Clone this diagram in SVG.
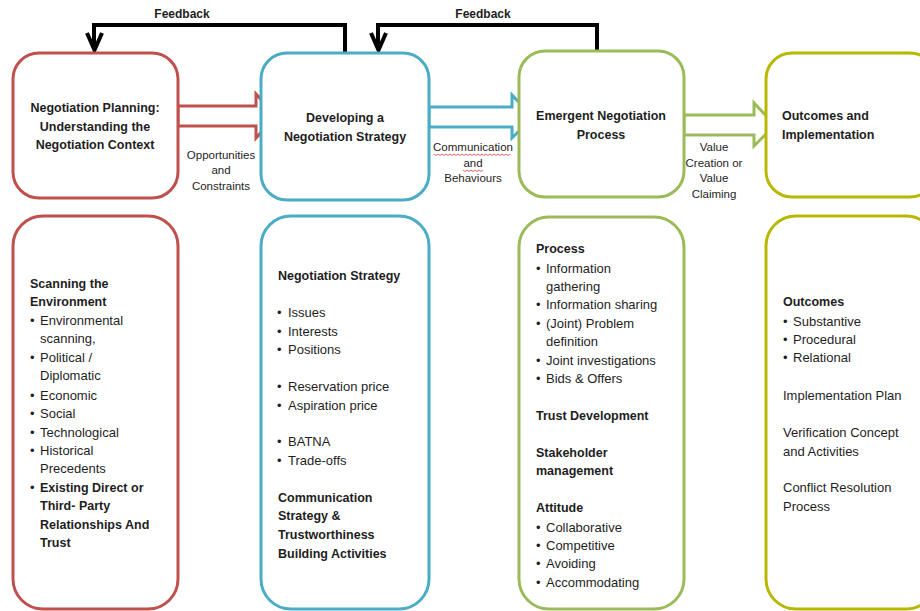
<svg xmlns="http://www.w3.org/2000/svg" width="920" height="611" viewBox="0 0 920 611">
<style>
.box{fill:#fff;stroke-width:3}
.red{stroke:#c0504d}.blue{stroke:#4bacc6}.green{stroke:#9bbb59}.olive{stroke:#b8b800}
text{font-family:"Liberation Sans",Arial,sans-serif;fill:#1e1e1e}
.t{font-size:12.5px;font-weight:bold}
.b{font-size:12.5px;font-weight:bold}
.n{font-size:13px}
.s{font-size:11.5px}
.c{text-anchor:middle}
.fb{fill:none;stroke:#000;stroke-width:4}
.blk{fill:#fff;stroke-width:3}
.sq{fill:none;stroke:#e03c3c;stroke-width:0.8}
</style>
<rect width="920" height="611" fill="#fff"/>
<g id="connectors">
<path class="fb" d="M345,53 V25 H94 V49"/>
<path class="fb" d="M87,33 L94.5,50 L102,33"/>
<path class="fb" d="M597,51 V25 H378 V49"/>
<path class="fb" d="M371,33 L378.5,50 L386,33"/>
<polygon class="blk red" points="178,106 256,106 256,94 276,116 256,138 256,126 178,126"/>
<polygon class="blk blue" points="429,107 512,107 512,95 533,117 512,138 512,127 429,127"/>
<polygon class="blk green" points="684,115 754,115 754,103 775,125 754,146 754,135 684,135"/>
<text class="b c" x="182" y="18" style="font-size:12px">Feedback</text>
<text class="b c" x="483" y="18" style="font-size:12px">Feedback</text>
<text class="s c" x="221" y="159">Opportunities</text>
<text class="s c" x="221" y="174">and</text>
<text class="s c" x="221" y="190">Constraints</text>
<text class="s c" x="473" y="151">Communication</text>
<text class="s c" x="473" y="167">and</text>
<text class="s c" x="473" y="182">Behaviours</text>
<path class="sq" d="M434,154 l2,1.5 l2,-1.5 l2,1.5 l2,-1.5 l2,1.5 l2,-1.5 l2,1.5 l2,-1.5 l2,1.5 l2,-1.5 l2,1.5 l2,-1.5 l2,1.5 l2,-1.5 l2,1.5 l2,-1.5 l2,1.5 l2,-1.5 l2,1.5 l2,-1.5 l2,1.5 l2,-1.5 l2,1.5 l2,-1.5 l2,1.5 l2,-1.5 l2,1.5 l2,-1.5 l2,1.5 l2,-1.5 l2,1.5 l2,-1.5 l2,1.5 l2,-1.5 l2,1.5 l2,-1.5 l2,1.5 l2,-1.5"/>
<path class="sq" d="M463,170 l2,1.5 l2,-1.5 l2,1.5 l2,-1.5 l2,1.5 l2,-1.5 l2,1.5 l2,-1.5 l2,1.5 l2,-1.5"/>
<text class="s c" x="714" y="151">Value</text>
<text class="s c" x="714" y="167">Creation or</text>
<text class="s c" x="714" y="182">Value</text>
<text class="s c" x="714" y="198">Claiming</text>
</g>
<g id="planning">
<rect class="box red" x="13" y="53" width="165" height="145" rx="26"/>
<text class="t c" x="95" y="112">Negotiation Planning:</text>
<text class="t c" x="95" y="131">Understanding the</text>
<text class="t c" x="95" y="149">Negotiation Context</text>
</g>
<g id="strategy">
<rect class="box blue" x="261" y="53" width="168" height="147" rx="26"/>
<text class="t c" x="345" y="122">Developing a</text>
<text class="t c" x="345" y="141">Negotiation Strategy</text>
</g>
<g id="process">
<rect class="box green" x="519" y="51" width="165" height="146" rx="26"/>
<text class="t c" x="601" y="120">Emergent Negotiation</text>
<text class="t c" x="601" y="139">Process</text>
</g>
<g id="outcomes">
<rect class="box olive" x="766" y="53" width="170" height="144" rx="26"/>
<text class="t" x="782" y="120">Outcomes and</text>
<text class="t" x="782" y="139">Implementation</text>
</g>
<g id="environment">
<rect class="box red" x="13" y="216" width="165" height="393" rx="30"/>
<text class="b" x="30" y="288">Scanning the</text>
<text class="b" x="30" y="306">Environment</text>
<g class="n">
<text x="30" y="325">•</text><text x="40" y="325">Environmental</text>
<text x="40" y="343">scanning,</text>
<text x="30" y="362">•</text><text x="40" y="362">Political /</text>
<text x="40" y="380">Diplomatic</text>
<text x="30" y="400">•</text><text x="40" y="400">Economic</text>
<text x="30" y="418">•</text><text x="40" y="418">Social</text>
<text x="30" y="437">•</text><text x="40" y="437">Technological</text>
<text x="30" y="455">•</text><text x="40" y="455">Historical</text>
<text x="40" y="473">Precedents</text>
<text x="30" y="492">•</text>
</g>
<text class="b" x="40" y="492">Existing Direct or</text>
<text class="b" x="40" y="510">Third- Party</text>
<text class="b" x="40" y="529">Relationships And</text>
<text class="b" x="40" y="547">Trust</text>
</g>
<g id="strategy-detail">
<rect class="box blue" x="261" y="216" width="168" height="393" rx="30"/>
<text class="b" x="278" y="280">Negotiation Strategy</text>
<g class="n">
<text x="277" y="317">•</text><text x="288" y="317">Issues</text>
<text x="277" y="336">•</text><text x="288" y="336">Interests</text>
<text x="277" y="354">•</text><text x="288" y="354">Positions</text>
<text x="277" y="391">•</text><text x="288" y="391">Reservation price</text>
<text x="277" y="410">•</text><text x="288" y="410">Aspiration price</text>
<text x="277" y="446">•</text><text x="288" y="446">BATNA</text>
<text x="277" y="465">•</text><text x="288" y="465">Trade-offs</text>
</g>
<text class="b" x="278" y="502">Communication</text>
<text class="b" x="278" y="520">Strategy &amp;</text>
<text class="b" x="278" y="539">Trustworthiness</text>
<text class="b" x="278" y="558">Building Activities</text>
</g>
<g id="process-detail">
<rect class="box green" x="519" y="217" width="165" height="392" rx="30"/>
<text class="b" x="536" y="253">Process</text>
<g class="n">
<text x="536" y="273">•</text><text x="546" y="273">Information</text>
<text x="546" y="291">gathering</text>
<text x="536" y="309">•</text><text x="546" y="309">Information sharing</text>
<text x="536" y="328">•</text><text x="546" y="328">(Joint) Problem</text>
<text x="546" y="346">definition</text>
<text x="536" y="365">•</text><text x="546" y="365">Joint investigations</text>
<text x="536" y="383">•</text><text x="546" y="383">Bids &amp; Offers</text>
</g>
<text class="b" x="536" y="420">Trust Development</text>
<text class="b" x="536" y="457">Stakeholder</text>
<text class="b" x="536" y="475">management</text>
<text class="b" x="536" y="512">Attitude</text>
<g class="n">
<text x="536" y="532">•</text><text x="546" y="532">Collaborative</text>
<text x="536" y="550">•</text><text x="546" y="550">Competitive</text>
<text x="536" y="568">•</text><text x="546" y="568">Avoiding</text>
<text x="536" y="587">•</text><text x="546" y="587">Accommodating</text>
</g>
</g>
<g id="outcomes-detail">
<rect class="box olive" x="766" y="216" width="170" height="393" rx="30"/>
<text class="b" x="783" y="306">Outcomes</text>
<g class="n">
<text x="783" y="326">•</text><text x="793" y="326">Substantive</text>
<text x="783" y="344">•</text><text x="793" y="344">Procedural</text>
<text x="783" y="362">•</text><text x="793" y="362">Relational</text>
<text x="783" y="400">Implementation Plan</text>
<text x="783" y="437">Verification Concept</text>
<text x="783" y="456">and Activities</text>
<text x="783" y="492">Conflict Resolution</text>
<text x="783" y="511">Process</text>
</g>
</g>
</svg>
